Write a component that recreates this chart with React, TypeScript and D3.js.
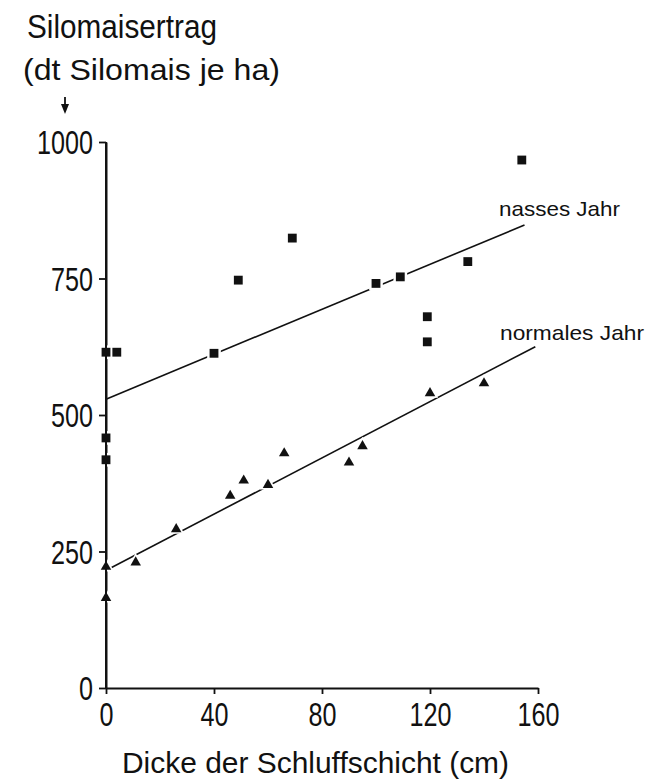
import { useEffect, useRef } from "react"
import * as d3 from "d3"

interface Point {
  x: number
  y: number
}

// Silomaisertrag im nassen Jahr (Quadrate)
const nassesJahr: Point[] = [
  { x: 0, y: 615 },
  { x: 4, y: 615 },
  { x: 0, y: 458 },
  { x: 0, y: 418 },
  { x: 40, y: 613 },
  { x: 49, y: 747 },
  { x: 69, y: 824 },
  { x: 100, y: 741 },
  { x: 109, y: 753 },
  { x: 119, y: 680 },
  { x: 119, y: 634 },
  { x: 134, y: 781 },
  { x: 154, y: 967 },
]

// Silomaisertrag im normalen Jahr (Dreiecke)
const normalesJahr: Point[] = [
  { x: 0, y: 222 },
  { x: 0, y: 165 },
  { x: 11, y: 230 },
  { x: 26, y: 291 },
  { x: 46, y: 352 },
  { x: 51, y: 380 },
  { x: 60, y: 372 },
  { x: 66, y: 430 },
  { x: 90, y: 413 },
  { x: 95, y: 443 },
  { x: 120, y: 540 },
  { x: 140, y: 558 },
]

// Regressionsgeraden (Endpunkte)
const nassesLinie: Point[] = [
  { x: 0, y: 529 },
  { x: 155, y: 848 },
]
const normalesLinie: Point[] = [
  { x: 1, y: 218 },
  { x: 159, y: 625 },
]

const xTicks = [0, 40, 80, 120, 160]
const yTicks = [0, 250, 500, 750, 1000]

// schmale Normschrift nachahmen: Liberation Sans, per textLength gestaucht
const FONT = "'Liberation Sans', Arial, sans-serif"
const DIGIT_W = 14

const App = () => {
  const svgRef = useRef<SVGSVGElement | null>(null)

  useEffect(() => {
    if (!svgRef.current) return
    const svg = d3.select(svgRef.current)
    svg.selectAll("*").remove()

    const x = d3.scaleLinear().domain([0, 160]).range([106, 538])
    const y = d3.scaleLinear().domain([0, 1000]).range([688, 142])

    const g = svg.append("g").style("font-family", FONT).attr("fill", "#111")

    const label = (txt: string, px: number, py: number, size: number, width: number) =>
      g
        .append("text")
        .attr("x", px)
        .attr("y", py)
        .attr("textLength", width)
        .attr("lengthAdjust", "spacingAndGlyphs")
        .style("font-size", `${size}px`)
        .text(txt)

    // Achsentitel
    label("Silomaisertrag", 27, 38, 33, 190)
    label("(dt Silomais je ha)", 23, 80, 30, 257)

    // Pfeil
    g.append("line")
      .attr("x1", 65)
      .attr("x2", 65)
      .attr("y1", 97)
      .attr("y2", 106)
      .attr("stroke", "#111")
      .attr("stroke-width", 1.8)
    g.append("path").attr("d", "M61,104 L69,104 L65,114 Z").attr("fill", "#111")

    const styleTicks = (a: d3.Selection<SVGGElement, unknown, null, undefined>) => {
      a.select(".domain").attr("stroke", "#111").attr("stroke-width", 2)
      a.selectAll(".tick line").attr("stroke", "#111").attr("stroke-width", 1.8)
      a.selectAll<SVGTextElement, number>(".tick text")
        .attr("fill", "#111")
        .style("font-family", FONT)
        .style("font-size", "33px")
        .attr("textLength", (d) => String(d).length * DIGIT_W)
        .attr("lengthAdjust", "spacingAndGlyphs")
    }

    // Y-Achse
    g.append("g")
      .attr("transform", `translate(${x(0)},0)`)
      .call(
        d3
          .axisLeft(y)
          .tickValues(yTicks)
          .tickFormat((d) => String(d))
          .tickSize(7)
          .tickPadding(6)
          .tickSizeOuter(0),
      )
      .call(styleTicks)
      .call((a) => a.selectAll(".tick text").attr("dy", "0.36em"))

    // X-Achse
    g.append("g")
      .attr("transform", `translate(0,${y(0)})`)
      .call(
        d3
          .axisBottom(x)
          .tickValues(xTicks)
          .tickFormat((d) => String(d))
          .tickSize(6)
          .tickPadding(9)
          .tickSizeOuter(0),
      )
      .call(styleTicks)

    label("Dicke der Schluffschicht (cm)", 122, 773, 30, 387)

    // Regressionsgeraden
    const line = d3
      .line<Point>()
      .x((d) => x(d.x))
      .y((d) => y(d.y))
    ;[nassesLinie, normalesLinie].forEach((pts) => {
      g.append("path")
        .datum(pts)
        .attr("fill", "none")
        .attr("stroke", "#111")
        .attr("stroke-width", 1.6)
        .attr("d", line)
    })

    // Beschriftung der Geraden
    label("nasses Jahr", 499, 216, 21, 121)
    label("normales Jahr", 500, 340, 21, 144)

    // Punkte, mit weißem Rand, damit die Linien kleine Lücken bekommen
    const square = d3.symbol().type(d3.symbolSquare)
    const triangle = d3.symbol().type(d3.symbolTriangle)

    const drawPoints = (data: Point[], sym: d3.Symbol<any, any>, size: number) => {
      g.append("g")
        .selectAll("path")
        .data(data)
        .join("path")
        .attr("transform", (d) => `translate(${x(d.x)},${y(d.y)})`)
        .attr("d", sym.size(size * 2.4)())
        .attr("fill", "#fff")
      g.append("g")
        .selectAll("path")
        .data(data)
        .join("path")
        .attr("transform", (d) => `translate(${x(d.x)},${y(d.y)})`)
        .attr("d", sym.size(size)())
        .attr("fill", "#111")
    }
    drawPoints(nassesJahr, square, 78)
    drawPoints(normalesJahr, triangle, 48)

    // Y-Achsenlinie wieder oben drauf
    g.append("line")
      .attr("x1", x(0))
      .attr("x2", x(0))
      .attr("y1", y(1000))
      .attr("y2", y(0))
      .attr("stroke", "#111")
      .attr("stroke-width", 2)
  }, [])

  return (
    <svg
      ref={svgRef}
      width={647}
      height={781}
      style={{ position: "absolute", left: 0, top: 0, background: "#fff" }}
    />
  )
}

export default App
